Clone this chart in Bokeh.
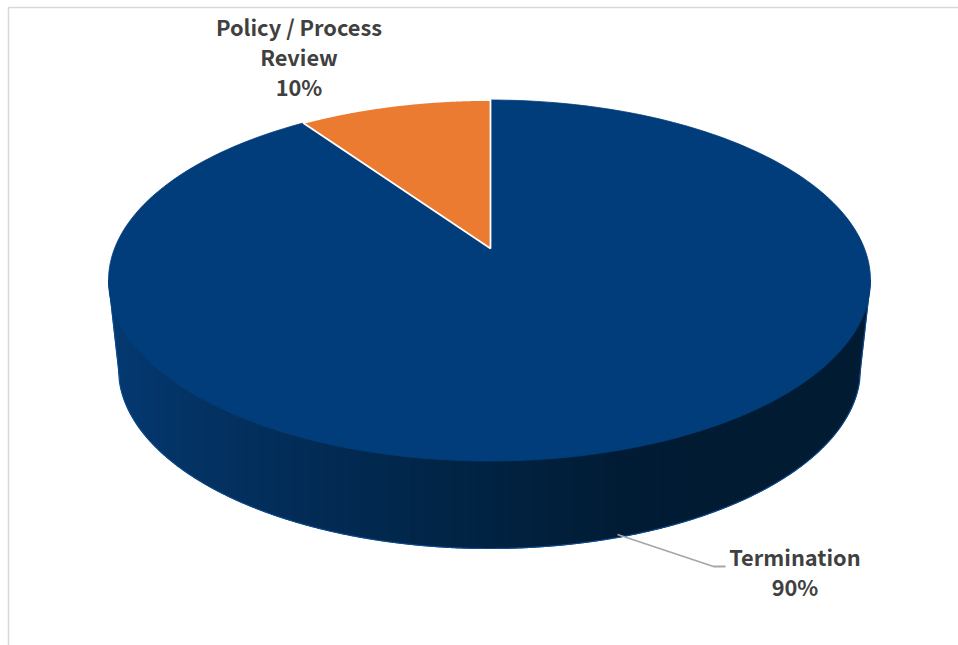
import numpy as np
from bokeh.core.properties import value
from bokeh.embed import file_html
from bokeh.models import Range1d
from bokeh.plotting import figure
from bokeh.resources import INLINE

# Slice data, clockwise from 12 o'clock
categories = ["Termination", "Policy / Process Review"]
shares = [90, 10]
slice_colors = ["#023D7B", "#EB7B30"]

# Label text, one list per block
policy_lines = ["Policy / Process", "Review", "10%"]
termination_lines = ["Termination", "90%"]

# Side-wall shading stops (x position in px, colour channels)
shade_x = [108, 200, 300, 420, 520, 620, 700, 870]
shade_r = [2, 2, 1, 0, 0, 0, 0, 0]
shade_g = [56, 49, 43, 37, 32, 27, 26, 26]
shade_b = [112, 98, 86, 72, 62, 52, 50, 50]

# Page geometry of the tilted pie
TOP_CX, TOP_CY, TOP_RX, TOP_RY = 489.0, 280.0, 381.0, 180.5
BOT_CX, BOT_CY, BOT_RX, BOT_RY = 489.0, 368.0, 371.0, 180.0
APEX_X, APEX_Y = 490.0, 248.0
PERSP_K, PERSP_A, PERSP_B = 0.1778, 358.0, 174.3


def rim_point(angle):
    """Project a clockwise pie angle (radians from 12 o'clock) on to the top ellipse."""
    u, v = np.sin(angle), np.cos(angle)
    w = 1 + PERSP_K * v
    dx, dy = PERSP_A * u / w, -PERSP_B * v / w
    ox, oy = APEX_X - TOP_CX, APEX_Y - TOP_CY
    a = (dx / TOP_RX) ** 2 + (dy / TOP_RY) ** 2
    b = 2 * (ox * dx / TOP_RX ** 2 + oy * dy / TOP_RY ** 2)
    c = (ox / TOP_RX) ** 2 + (oy / TOP_RY) ** 2 - 1
    t = (-b + np.sqrt(b * b - 4 * a * c)) / (2 * a)
    return APEX_X + t * dx, APEX_Y + t * dy


def slice_outline(start, stop):
    angles = np.linspace(start, stop, 240)
    xs, ys = rim_point(angles)
    return [APEX_X, *xs, APEX_X], [APEX_Y, *ys, APEX_Y]


def bottom_edge(x):
    inside = np.abs(x - BOT_CX) <= BOT_RX
    y = np.empty_like(x)
    y[inside] = BOT_CY + BOT_RY * np.sqrt(1 - ((x[inside] - BOT_CX) / BOT_RX) ** 2)
    # Outside the lower ellipse the wall tapers in a straight line
    gap = TOP_RX - BOT_RX
    y[~inside] = TOP_CY + (BOT_CY - TOP_CY) * (1 - (np.abs(x[~inside] - BOT_CX) - BOT_RX) / gap)
    return y


p = figure(width=958, height=645, output_backend="svg", toolbar_location=None,
           x_range=Range1d(0, 958), y_range=Range1d(645, 0), min_border=0,
           background_fill_color="white", border_fill_color="white", outline_line_color=None)
p.axis.visible = False
p.grid.visible = False

# Chart frame: only the top and left edges show
p.line([8, 8, 958], [645, 7, 7], line_color="#D9D9D9", line_width=1.5)

# Side wall as narrow vertical strips
edges = np.arange(TOP_CX - TOP_RX, TOP_CX + TOP_RX + 2, 2.0)
lows = bottom_edge(edges)
strip_xs, strip_ys, strip_cols = [], [], []
for i in range(len(edges) - 1):
    x0, x1 = edges[i], edges[i + 1]
    mid = (x0 + x1) / 2
    col = "#%02x%02x%02x" % tuple(int(round(np.interp(mid, shade_x, ch))) for ch in (shade_r, shade_g, shade_b))
    strip_xs.append([x0, x1, x1, x0])
    strip_ys.append([TOP_CY, TOP_CY, lows[i + 1], lows[i]])
    strip_cols.append(col)
p.patches(strip_xs, strip_ys, fill_color=strip_cols, line_color=strip_cols, line_width=0.8)

# Thin lighter rim along the bottom of the wall
rim_x = np.linspace(TOP_CX - TOP_RX, TOP_CX + TOP_RX, 700)
p.line(rim_x, bottom_edge(rim_x), line_color="#0A4A8C", line_width=1.2)

# Top face: one patch per slice
sweeps = np.cumsum([0] + shares) / sum(shares) * 2 * np.pi
nx, ny = slice_outline(sweeps[0], sweeps[1])
p.patch(nx, ny, fill_color=slice_colors[0], line_color=slice_colors[0], line_width=0.8)
ox, oy = slice_outline(sweeps[1], sweeps[2])
p.patch(ox, oy, fill_color=slice_colors[1], line_color="white", line_width=1.8)

# Leader line of the Termination label
p.line([617, 713, 725], [534, 566, 566], line_color="#A6A6A6", line_width=1.8)

# Data labels
label_font = value("Noto Sans CJK SC")
p.text([298.5] * 3, [26, 56, 86], text=policy_lines, text_font=label_font, text_font_style="bold",
       text_font_size="21.8px", text_color="#404040", text_align="center", text_baseline="middle")
p.text([794.5] * 2, [556, 586], text=termination_lines, text_font=label_font, text_font_style="bold",
       text_font_size="21.8px", text_color="#404040", text_align="center", text_baseline="middle")

with open("out.html", "w") as f:
    f.write(file_html(p, INLINE))
